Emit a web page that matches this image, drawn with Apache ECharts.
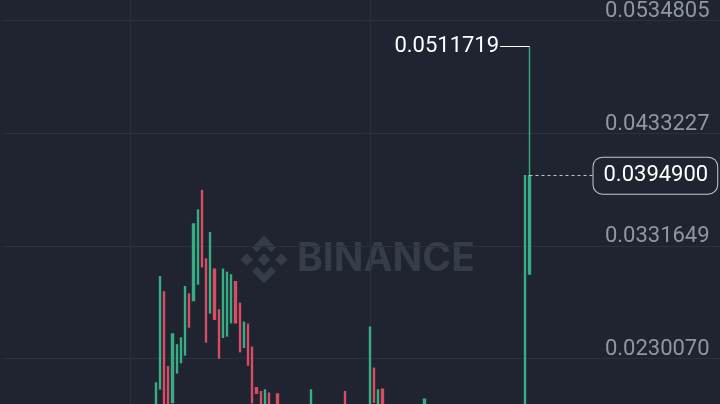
<!DOCTYPE html>
<html><head><meta charset="utf-8">
<script src="https://cdn.jsdelivr.net/npm/echarts@6/dist/echarts.min.js"></script>
<style>html,body{margin:0;padding:0;background:#1f2430;}#c{width:720px;height:404px;}</style>
</head><body><div id="c"></div>
<script>
// candle values (open, close, low, high), one entry per candle, left to right
const opens = [0.0172,0.02024,0.02899,0.02225,0.01900,0.02168,0.02261,0.02331,0.02881,0.02821,
0.02971,0.03815,0.03197,0.02710,0.03104,0.02737,0.02490,0.02502,0.02622,0.02992,
0.02797,0.02400,0.02608,0.02400,0.02035,0.01999,0.0178,0.01985,0.0178,0.01979,
0.0180,0.0175,0.0182,0.0177,0.0174,0.0179,0.0176,0.0178,0.0185,0.0180,
0.0183,0.0178,0.0176,0.0181,0.0179,0.01999,0.0181,0.0177,0.0180,0.0175,
0.0178,0.0180,0.02210,0.0183,0.02021,0.0182,0.0178,0.0181,0.0176,0.0174,
0.0177,0.0175,0.0179,0.0176,0.0180,0.0185,0.0179,0.0176,0.0178,0.0173,
0.0171,0.0175,0.0172,0.0169,0.0172,0.0170,0.0167,0.0170,0.0168,0.0165,
0.0168,0.0166,0.0163,0.0166,0.0164,0.0161,0.0164,0.0162,0.0160,0.0306];
const closes = [0.02078,0.03037,0.0178,0.0181,0.02520,0.02421,0.02484,0.02947,0.02583,0.03513,
0.03639,0.03128,0.02448,0.03434,0.02653,0.02303,0.03104,0.03077,0.03053,0.02622,
0.02360,0.02626,0.02240,0.01900,0.01985,0.0180,0.02015,0.0179,0.0184,0.0180,
0.0175,0.0182,0.0177,0.0174,0.0179,0.0176,0.0178,0.02015,0.0180,0.0183,
0.0178,0.0176,0.0181,0.0179,0.0183,0.0181,0.0177,0.0180,0.0175,0.0178,
0.0180,0.02581,0.01904,0.02015,0.0182,0.0178,0.0181,0.0176,0.0174,0.0177,
0.0175,0.0179,0.0176,0.0180,0.01931,0.0179,0.0176,0.0178,0.0173,0.0171,
0.0175,0.0172,0.0169,0.0172,0.0170,0.0167,0.0170,0.0168,0.0165,0.0168,
0.0166,0.0163,0.0166,0.0164,0.0161,0.0164,0.0162,0.0160,0.03949,0.03949];
const lows = [0.0170,0.02024,0.0176,0.0179,0.01900,0.02168,0.02261,0.02331,0.02583,0.02821,
0.02971,0.03128,0.02448,0.02710,0.02653,0.02303,0.02490,0.02502,0.02622,0.02622,
0.02360,0.02400,0.02240,0.01900,0.01985,0.0178,0.0176,0.0177,0.0176,0.0178,
0.0174,0.0174,0.0176,0.0172,0.0173,0.0175,0.0175,0.0177,0.0179,0.0179,
0.0177,0.0175,0.0175,0.0178,0.0178,0.0180,0.0176,0.0176,0.0174,0.0174,
0.0177,0.0179,0.01904,0.0182,0.0181,0.0177,0.0177,0.0175,0.0173,0.0173,
0.0174,0.0174,0.0175,0.0175,0.0179,0.0178,0.0175,0.0175,0.0172,0.0170,
0.0170,0.0171,0.0168,0.0168,0.0169,0.0166,0.0166,0.0167,0.0164,0.0164,
0.0165,0.0162,0.0162,0.0163,0.0160,0.0160,0.0161,0.0159,0.0159,0.0306];
const highs = [0.02078,0.03037,0.02899,0.02225,0.02520,0.02421,0.02484,0.02947,0.02881,0.03513,
0.03639,0.03815,0.03197,0.03434,0.03104,0.02737,0.03104,0.03077,0.03053,0.02992,
0.02797,0.02626,0.02608,0.02400,0.02035,0.01999,0.02015,0.01985,0.0185,0.01979,
0.0181,0.0183,0.0183,0.0178,0.0180,0.0180,0.0179,0.02015,0.0186,0.0184,
0.0184,0.0179,0.0182,0.0182,0.0184,0.01999,0.0182,0.0181,0.0181,0.0179,
0.0181,0.02581,0.02210,0.02015,0.02021,0.0183,0.0182,0.0182,0.0177,0.0178,
0.0178,0.0180,0.0180,0.0181,0.01931,0.0186,0.0180,0.0179,0.0179,0.0174,
0.0176,0.0176,0.0173,0.0173,0.0173,0.0171,0.0171,0.0171,0.0169,0.0169,
0.0169,0.0167,0.0167,0.0167,0.0165,0.0165,0.0165,0.0163,0.03949,0.0511719];
// price axis ticks: 0.0230070, 0.0331649, 0.0433227, 0.0534805 (one step below and above too)
const yMin = 0.0128492, yStep = 0.01015783, yMax = 0.06363835;
const lastPrice = 0.03949;
const highPrice = 0.0511719;

const LEAD = 36, NCAT = 171;
const cats = Array.from({length: NCAT}, (_, i) => String(i));
const kData = opens.map((o, k) => [LEAD + k, o, closes[k], lows[k], highs[k]]);
const lastIdx = LEAD + opens.length - 1;

const BG = '#1f2430', GRID = '#2b313c', UP = '#38ad84', DOWN = '#d64d64';
const FONT = 'Roboto';

// watermark logo polygons (unit coords)
const s = 24, cx = 264, cy = 259.5;
const P = pts => pts.map(p => [cx + p[0] * s, cy + p[1] * s]);
const logoShapes = [
  [[0,-0.26],[0.26,0],[0,0.26],[-0.26,0]],
  [[-0.72,-0.26],[-0.46,0],[-0.72,0.26],[-0.98,0]],
  [[0.72,-0.26],[0.98,0],[0.72,0.26],[0.46,0]],
  [[0,-1],[0.5,-0.5],[0.3,-0.3],[0,-0.6],[-0.3,-0.3],[-0.5,-0.5]],
  [[0,1],[0.5,0.5],[0.3,0.3],[0,0.6],[-0.3,0.3],[-0.5,0.5]]
];
const WM = '#363c48';

const chart = echarts.init(document.getElementById('c'), null, {renderer: 'canvas'});
chart.setOption({
  animation: false,
  backgroundColor: BG,
  graphic: [
    ...logoShapes.map(p => ({type: 'polygon', z: 0, silent: true, shape: {points: P(p)}, style: {fill: WM}})),
    {type: 'text', z: 0, silent: true, x: 297, y: 259.5,
     style: {text: 'BINANCE', font: 'bold 39px Inter', fill: WM, textVerticalAlign: 'middle', textAlign: 'left'}}
  ],
  grid: {left: 2.4, width: 718.2, top: -91.8, height: 562.6, containLabel: false, outerBoundsMode: 'none'},
  xAxis: {
    type: 'category', data: cats, boundaryGap: true,
    axisLine: {show: false}, axisTick: {show: false}, axisLabel: {show: false}, splitLine: {show: false}
  },
  yAxis: {
    type: 'value', position: 'right', min: yMin, max: yMax, interval: yStep, scale: true,
    axisLine: {show: false}, axisTick: {show: false},
    splitLine: {show: true, lineStyle: {color: GRID, width: 1}},
    axisLabel: {inside: true, margin: 11, color: '#9097a1', fontSize: 22, fontFamily: FONT,
      verticalAlign: 'bottom', lineHeight: 18, formatter: v => v.toFixed(7)}
  },
  series: [
    {
      type: 'line', data: [], z: 1, silent: true,
      markLine: {
        z: 1, silent: true, symbol: ['none', 'none'], animation: false,
        label: {show: false},
        lineStyle: {color: GRID, width: 1, type: 'solid'},
        data: [{xAxis: LEAD - 6}, {xAxis: LEAD + 51}]
      }
    },
    {
      type: 'candlestick', z: 3,
      data: kData,
      encode: {x: 0, y: [1, 2, 3, 4]},
      barWidth: 1.6,
      itemStyle: {color: UP, color0: DOWN, borderColor: UP, borderColor0: DOWN, borderWidth: 1.4},
      markLine: {
        z: 5, silent: true, symbol: ['none', 'none'], animation: false,
        data: [
          [
            {coord: [lastIdx - 7, highPrice], lineStyle: {color: '#ffffff', width: 1, type: 'solid'},
             label: {show: true, position: 'start', distance: 1, formatter: highPrice.toFixed(7),
                     color: '#ffffff', fontSize: 22, fontFamily: FONT}},
            {coord: [lastIdx - 0.35, highPrice]}
          ],
          [
            {coord: [lastIdx + 0.3, lastPrice], lineStyle: {color: '#c3c7ce', width: 1, type: [3, 3]},
             label: {show: true, position: 'end', distance: 1, formatter: lastPrice.toFixed(7),
                     color: '#ffffff', fontSize: 22, fontFamily: FONT, lineHeight: 20,
                     backgroundColor: BG, borderColor: '#c3c7ce', borderWidth: 1, borderRadius: 9,
                     padding: [8, 9, 8, 10]}},
            {coord: [lastIdx + 15, lastPrice]}
          ]
        ]
      }
    }
  ]
});
</script>
</body></html>
